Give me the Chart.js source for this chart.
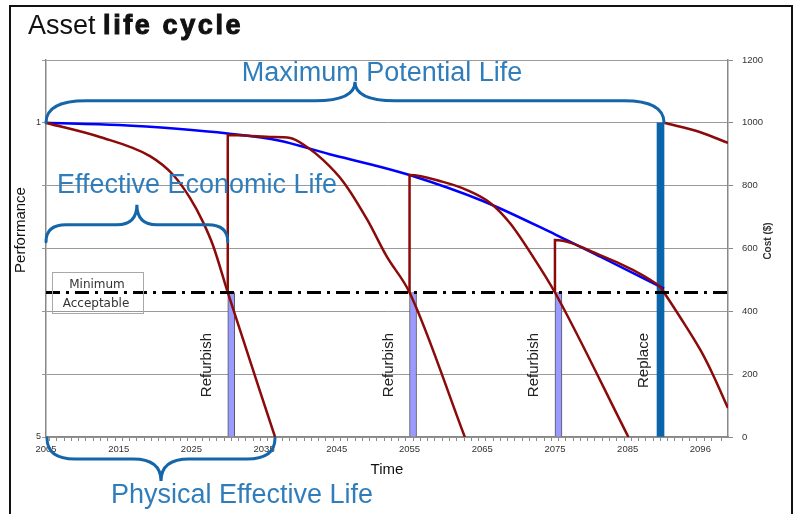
<!DOCTYPE html>
<html>
<head>
<meta charset="utf-8">
<script src="https://cdn.jsdelivr.net/npm/chart.js@4/dist/chart.umd.min.js"></script>
<style>
    html, body { margin: 0; padding: 0; background: #fff; }
    #wrap { position: relative; width: 796px; height: 514px; overflow: hidden; }
    #frame { position: absolute; left: 9px; top: 5px; width: 780px; height: 540px; border: 2px solid #111; }
    #title { position: absolute; left: 28px; top: 12px; font: 27px/27px "Liberation Sans", Arial, sans-serif; color: #111; }
    #title b { letter-spacing: 2.6px; -webkit-text-stroke: 1px #111; }
    canvas { position: absolute; left: 0; top: 0; }
</style>
</head>
<body>
<div id="wrap">
    <div id="frame"></div>
    <canvas id="chart" width="796" height="514"></canvas>
    <div id="title">Asset <b>life cycle</b></div>
</div>
<script>
// values, cost axis units ($)
const firstYear = 2005;
const lastYear = 2098.8;
const xTickLabels = ["2005", "2015", "2025", "2035", "2045", "2055", "2065", "2075", "2085", "2096"];
const performanceTickValues = [0, 1000];
const performanceTickLabels = ["5", "1"];

const maxPotential = [[2005, 1000], [2015, 993], [2023, 981], [2030, 966], [2037, 944], [2044, 900],
    [2050, 866], [2055, 834], [2065, 752], [2075, 645], [2082, 565], [2090, 472]];
const cycle1 = [[2005, 1000], [2012.4, 955], [2019.3, 894], [2022.5, 834], [2024.8, 761],
    [2026.6, 684], [2028, 608], [2030, 460], [2036.5, 0]];
const cycle2 = [[2030, 460], [2030, 961], [2035.8, 955], [2038.6, 952], [2040.9, 923], [2043.1, 882],
    [2045.9, 812], [2049.2, 691], [2051.9, 573], [2055, 460], [2062.6, 0]];
const cycle3 = [[2055, 460], [2055, 834], [2059.6, 812], [2062.9, 786], [2066.1, 745], [2068.8, 681],
    [2072, 573], [2075, 460], [2085.1, 0]];
const cycle4 = [[2075, 460], [2075, 627], [2081.2, 579], [2085.7, 532], [2088.1, 500], [2089.5, 477],
    [2090, 460], [2092.2, 382], [2095, 277], [2096.7, 200], [2098.8, 92]];
const cycle5 = [[2090, 1000], [2095, 970], [2098.8, 936]];

const minimumAcceptable = 460;
const refurbishYears = [2030, 2055, 2075];
const replaceYear = 2090;
const replaceCost = 1000;

const blueText = "#2f7dba";
const braceBlue = "#1565a9";
const darkRed = "#8b0a0a";

const toPoints = (pairs) => pairs.map(([x, y]) => ({ x, y }));

function drawBrace(ctx, x1, x2, yEnd, yMid, yTip, r) {
    const xm = (x1 + x2) / 2;
    ctx.beginPath();
    ctx.moveTo(x1, yEnd);
    ctx.quadraticCurveTo(x1, yMid, x1 + r, yMid);
    ctx.lineTo(xm - r, yMid);
    ctx.quadraticCurveTo(xm, yMid, xm, yTip);
    ctx.quadraticCurveTo(xm, yMid, xm + r, yMid);
    ctx.lineTo(x2 - r, yMid);
    ctx.quadraticCurveTo(x2, yMid, x2, yEnd);
    ctx.stroke();
}

function drawRotated(ctx, text, x, y, align) {
    ctx.save();
    ctx.translate(x, y);
    ctx.rotate(-Math.PI / 2);
    ctx.textAlign = align;
    ctx.textBaseline = "middle";
    ctx.fillText(text, 0, 0);
    ctx.restore();
}

const lifeCycleNotes = {
    id: "lifeCycleNotes",
    afterDatasetsDraw(chart) {
        const { ctx, scales } = chart;
        const px = (v) => scales.x.getPixelForValue(v);
        const py = (v) => scales.cost.getPixelForValue(v);
        const minY = py(minimumAcceptable);
        const startX = px(firstYear);

        ctx.save();
        ctx.strokeStyle = braceBlue;
        ctx.lineWidth = 3;
        ctx.lineCap = "round";
        const topY = py(replaceCost);
        drawBrace(ctx, startX, px(replaceYear), topY, topY - 22, topY - 41, 40);
        drawBrace(ctx, startX, px(refurbishYears[0]), topY + 119, topY + 102, topY + 82, 20);
        const bottomY = py(0);
        drawBrace(ctx, startX + 1, px(cycle1[cycle1.length - 1][0]), bottomY + 1, bottomY + 22, bottomY + 44, 28);

        ctx.fillStyle = blueText;
        ctx.font = '27px "Liberation Sans", Arial, sans-serif';
        ctx.textBaseline = "alphabetic";
        ctx.textAlign = "center";
        ctx.fillText("Maximum Potential Life", 382, 81);
        ctx.textAlign = "left";
        ctx.fillText("Effective Economic Life", 57, 193);
        ctx.fillText("Physical Effective Life", 111, 503);

        // minimum acceptable box
        ctx.strokeStyle = "#a8a8a8";
        ctx.lineWidth = 1;
        ctx.strokeRect(52.5, Math.round(minY) - 19.5, 91, 41);
        ctx.fillStyle = "#333";
        ctx.font = '12px "DejaVu Sans", sans-serif';
        ctx.textAlign = "center";
        ctx.textBaseline = "middle";
        ctx.fillText("Minimum", 97, minY - 8);
        ctx.fillText("Acceptable", 96, minY + 11);

        ctx.fillStyle = "#222";
        ctx.font = '15px "Liberation Sans", Arial, sans-serif';
        refurbishYears.forEach((year) => drawRotated(ctx, "Refurbish", px(year) - 21, 333, "right"));
        drawRotated(ctx, "Replace", px(replaceYear) - 20, 333, "right");

        ctx.font = '15px "Liberation Sans", Arial, sans-serif';
        ctx.fillStyle = "#111";
        drawRotated(ctx, "Performance", 21, 230, "center");
        ctx.font = 'bold 10px "Liberation Sans", Arial, sans-serif';
        ctx.fillStyle = "#333";
        drawRotated(ctx, "Cost ($)", 768, 241, "center");
        ctx.restore();
    }
};

const redLine = (pairs) => ({
    type: "line",
    data: toPoints(pairs),
    yAxisID: "cost",
    borderColor: darkRed,
    borderWidth: 2.5,
    pointRadius: 0,
    fill: false,
    cubicInterpolationMode: "monotone",
    order: 3
});

new Chart(document.getElementById("chart"), {
    type: "line",
    data: {
        datasets: [
            {
                type: "bar",
                data: refurbishYears.map((year) => ({ x: year, y: minimumAcceptable })),
                yAxisID: "cost",
                backgroundColor: "#9a9aff",
                borderColor: "#555",
                borderWidth: 1,
                barThickness: 7,
                order: 6
            },
            {
                type: "bar",
                data: [{ x: replaceYear, y: replaceCost }],
                yAxisID: "cost",
                backgroundColor: "#0b65aa",
                borderWidth: 0,
                barThickness: 7,
                order: 5
            },
            {
                type: "line",
                data: toPoints(maxPotential),
                yAxisID: "cost",
                borderColor: "#0000ff",
                borderWidth: 2.5,
                pointRadius: 0,
                fill: false,
                cubicInterpolationMode: "monotone",
                order: 4
            },
            redLine(cycle1),
            redLine(cycle2),
            redLine(cycle3),
            redLine(cycle4),
            redLine(cycle5),
            {
                type: "line",
                data: [{ x: firstYear, y: minimumAcceptable }, { x: lastYear, y: minimumAcceptable }],
                yAxisID: "cost",
                borderColor: "#000",
                borderWidth: 3,
                borderDash: [14, 6, 3, 6],
                pointRadius: 0,
                fill: false,
                order: 1
            }
        ]
    },
    options: {
        responsive: false,
        animation: false,
        devicePixelRatio: 1,
        events: [],
        layout: { padding: { top: 60, left: 0, right: 0, bottom: 0 } },
        plugins: {
            legend: { display: false },
            tooltip: { enabled: false }
        },
        scales: {
            x: {
                type: "linear",
                min: firstYear,
                max: lastYear,
                offset: false,
                grid: { drawOnChartArea: false, tickLength: 4, color: "#888" },
                border: { color: "#888", width: 1.5 },
                ticks: {
                    stepSize: 1,
                    autoSkip: false,
                    maxRotation: 0,
                    padding: 3,
                    color: "#333",
                    font: { family: "'Liberation Sans', Arial", size: 9.5 },
                    callback: (value) => {
                        const offset = value - firstYear;
                        return offset % 10 === 0 ? (xTickLabels[offset / 10] ?? "") : "";
                    }
                },
                title: {
                    display: true,
                    text: "Time",
                    color: "#111",
                    font: { family: "'Liberation Sans', Arial", size: 15 },
                    padding: { top: 0, bottom: 35 }
                },
                afterFit: (scale) => { scale.height = 77; }
            },
            perf: {
                type: "linear",
                position: "left",
                min: 0,
                max: 1200,
                grid: { color: "#9a9a9a", tickLength: 4 },
                border: { color: "#888", width: 1.5 },
                ticks: {
                    stepSize: 200,
                    padding: 1,
                    color: "#333",
                    font: { family: "'Liberation Sans', Arial", size: 9 },
                    callback: (value) => {
                        const i = performanceTickValues.indexOf(value);
                        return i >= 0 ? performanceTickLabels[i] : "";
                    }
                },
                afterFit: (scale) => { scale.width = 46; }
            },
            cost: {
                type: "linear",
                position: "right",
                min: 0,
                max: 1200,
                grid: { drawOnChartArea: false, color: "#888", tickLength: 5 },
                border: { color: "#888", width: 1.5 },
                ticks: {
                    stepSize: 200,
                    padding: 9,
                    color: "#333",
                    font: { family: "'Liberation Sans', Arial", size: 9.5 },
                    callback: (value) => String(value)
                },
                afterFit: (scale) => { scale.width = 68; }
            }
        }
    },
    plugins: [lifeCycleNotes]
});
</script>
</body>
</html>
